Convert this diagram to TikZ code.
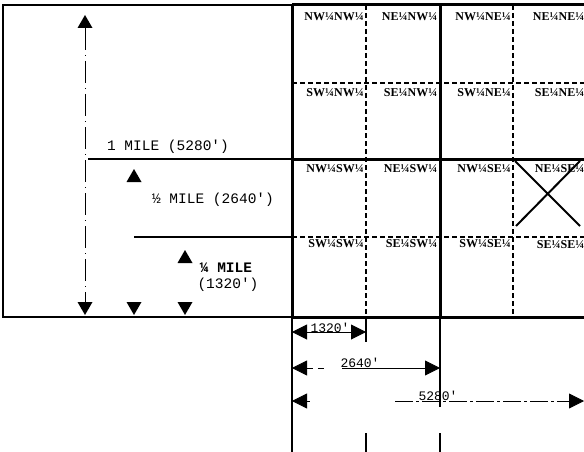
\documentclass[tikz,border=0pt]{standalone}
\usepackage{fontspec}
\setmainfont{Liberation Serif}
\newfontfamily\courier{Liberation Mono}
\usetikzlibrary{arrows.meta}

\tikzset{
  boxline/.style={line width=1.2pt},
  heavy/.style={line width=3pt},
  qline/.style={line width=1.3pt, dash pattern=on 5pt off 3pt},
  dimtip/.tip={Triangle[length=15pt,width=15pt]},
  tract/.style={font=\bfseries\fontsize{12}{12}\selectfont, anchor=east, inner sep=0pt},
  milelabel/.style={font=\courier\fontsize{14.5}{14.5}\selectfont, inner sep=0pt},
  dimlabel/.style={font=\courier\fontsize{13}{13}\selectfont, inner sep=0pt, anchor=base},
  uptri/.pic={\fill (-7.5,0) -- (7.5,0) -- (0,-13) -- cycle;}
}

\begin{document}
\begin{tikzpicture}[x=1pt,y=-1pt]
\useasboundingbox (0,0) rectangle (584,452);
\clip (0,0) rectangle (584,452);
% scale box on the left
\draw[boxline] (3,5) rectangle (292,317);
\coordinate (mile) at (88,159);
\coordinate (half) at (134,237);
\coordinate (top) at (85,28);
\coordinate (foot) at (85,302);
\draw[line width=1.6pt] (mile) -- (292,159);
\draw[line width=1.6pt] (half) -- (292,237);
\draw[line width=0.6pt, dash pattern=on 22pt off 5pt on 1pt off 5pt] (top) -- (foot);
\pic at (top) {uptri};
\pic at (134,182) {uptri};
\pic at (185,263) {uptri};
\foreach \x in {85,134,185}
  \pic[rotate=180] at (\x,302) {uptri};
\node[milelabel] (onemile) at (168,147) {1 MILE (5280′)};
\node[milelabel] (halfmile) at (213,200) {½ MILE (2640′)};
\node[milelabel, font=\courier\bfseries\fontsize{14.5}{14.5}\selectfont] (qmile) at (226,268) {¼ MILE};
\node[milelabel] (qfeet) at (228,285) {(1320′)};

% section grid
\draw[qline] (366,5) -- (366,317) (513,5) -- (513,317)
  (292,83) -- (590,83) (292,237) -- (590,237);
\draw[heavy] (292,5) -- (590,5) (292,159) -- (590,159) (292,317) -- (590,317)
  (292,5) -- (292,317) (440,5) -- (440,317);
\draw[line width=2pt] (515,161) -- (580,226) (580,161) -- (516,226);
\foreach \qq/\a/\b in {NW/0/0,NE/1/0,SW/0/1,SE/1/1}
  \foreach \q/\c/\d in {NW/0/0,NE/1/0,SW/0/1,SE/1/1}
    \node[tract] (t-\qq-\q) at ({364+73.5*(\a+2*\c)},{17+75.7*(\b+2*\d)}) {\qq¼\q¼};

% dimensions below
\draw[boxline] (292,317) -- (292,452) (366,317) -- (366,342) (440,317) -- (440,407)
  (366,433) -- (366,452) (440,433) -- (440,452);
\coordinate (a0) at (292,332);
\coordinate (a1) at (366,332);
\coordinate (b0) at (292,368);
\coordinate (b1) at (440,368);
\coordinate (c0) at (292,401);
\coordinate (c1) at (584,401);
\draw[line width=1pt, dimtip-dimtip] (a0) -- (a1);
\node[dimlabel] (d1320) at (330,332) {1320′};
\draw[line width=0.8pt, dimtip-, dash pattern=on 6pt off 5pt] (b0) -- (326,368);
\draw[line width=0.8pt, -dimtip] (342,368) -- (b1);
\node[dimlabel] (d2640) at (360,367) {2640′};
\draw[line width=0.8pt, dimtip-] (c0) -- (310,401);
\draw[line width=0.8pt, -dimtip, dash pattern=on 18pt off 3pt on 3pt off 3pt] (395,401) -- (c1);
\node[dimlabel] (d5280) at (438,400) {5280′};
\end{tikzpicture}
\end{document}
